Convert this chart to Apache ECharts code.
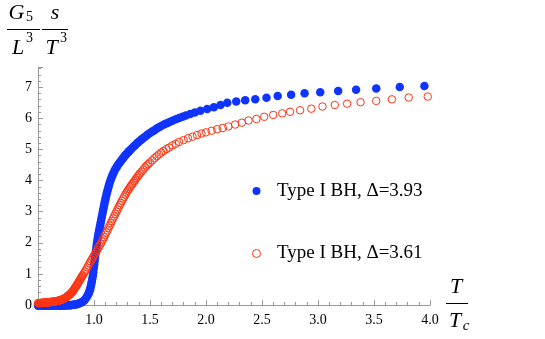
<!DOCTYPE html>
<html>
<head>
<meta charset="utf-8">
<script src="https://cdn.jsdelivr.net/npm/echarts@6/dist/echarts.min.js"></script>
<style>
  html, body { margin: 0; padding: 0; background: #fff; }
  #main { width: 545px; height: 339px; }
</style>
</head>
<body>
<div id="main"></div>
<script>
// legend names
const seriesNames = ['Type I BH, \u0394=3.93', 'Type I BH, \u0394=3.61'];

// [T/Tc, G5 s / (L^3 T^3)]
const blueData = [
  [0.50,-0.02],[0.51,-0.02],[0.52,-0.02],[0.53,-0.02],[0.54,-0.02],[0.55,-0.02],[0.56,-0.02],[0.57,-0.02],
  [0.58,-0.02],[0.59,-0.02],[0.60,-0.02],[0.61,-0.02],[0.62,-0.02],[0.63,-0.02],[0.64,-0.02],[0.65,-0.02],
  [0.66,-0.02],[0.67,-0.02],[0.68,-0.02],[0.69,-0.02],[0.70,-0.02],[0.71,-0.02],[0.72,-0.02],[0.73,-0.02],
  [0.74,-0.01],[0.75,-0.01],[0.76,-0.01],[0.77,-0.01],[0.78,-0.01],[0.79,-0.01],[0.80,0.00],[0.81,0.005],
  [0.82,0.01],[0.83,0.015],[0.84,0.02],[0.85,0.03],[0.86,0.04],[0.87,0.055],[0.88,0.07],[0.89,0.09],
  [0.90,0.11],[0.91,0.14],[0.92,0.18],[0.93,0.23],[0.94,0.28],[0.95,0.35],[0.955,0.40],[0.96,0.45],
  [0.965,0.50],[0.97,0.58],[0.975,0.66],[0.98,0.75],[0.985,0.85],[0.99,0.95],[0.994,1.05],[0.998,1.18],
  [1.002,1.30],[1.006,1.42],[1.010,1.54],[1.014,1.65],[1.018,1.76],[1.022,1.87],[1.026,1.98],[1.030,2.09],
  [1.035,2.19],[1.040,2.29],[1.045,2.38],[1.050,2.47],[1.055,2.56],[1.060,2.65],[1.065,2.75],[1.070,2.84],
  [1.075,2.93],[1.080,3.02],[1.085,3.11],[1.090,3.20],[1.095,3.29],[1.100,3.37],[1.105,3.45],[1.110,3.53],
  [1.116,3.62],[1.122,3.70],[1.128,3.78],[1.134,3.86],[1.140,3.93],[1.148,4.01],[1.156,4.09],[1.164,4.16],
  [1.172,4.23],[1.180,4.29],[1.19,4.36],[1.20,4.42],[1.21,4.48],[1.22,4.53],[1.23,4.58],[1.24,4.63],
  [1.25,4.68],[1.26,4.72],[1.27,4.77],[1.28,4.81],[1.29,4.85],[1.30,4.89],[1.31,4.93],[1.32,4.97],
  [1.335,5.02],[1.35,5.08],[1.365,5.13],[1.38,5.18],[1.395,5.23],[1.41,5.28],[1.425,5.32],[1.44,5.37],
  [1.46,5.42],[1.48,5.48],[1.50,5.53],[1.52,5.58],[1.54,5.62],[1.56,5.67],[1.58,5.71],[1.60,5.75],
  [1.625,5.80],[1.65,5.84],[1.675,5.88],[1.70,5.92],[1.73,5.97],[1.76,6.01],[1.79,6.05],[1.82,6.09],
  [1.86,6.14],[1.90,6.19],[1.95,6.24],[2.01,6.30],[2.07,6.36],[2.13,6.43],[2.19,6.50],[2.27,6.54],
  [2.35,6.58],[2.44,6.61],[2.54,6.66],[2.64,6.72],[2.76,6.76],[2.88,6.81],[3.02,6.84],[3.18,6.88],
  [3.34,6.92],[3.52,6.96],[3.73,7.01],[3.95,7.04]
];

const redData = [
  [0.50,0.06],[0.505,0.06],[0.51,0.06],[0.515,0.06],[0.52,0.06],[0.525,0.065],[0.53,0.07],[0.535,0.07],
  [0.54,0.07],[0.545,0.07],[0.55,0.07],[0.555,0.075],[0.56,0.075],[0.565,0.08],[0.57,0.08],[0.575,0.08],
  [0.58,0.08],[0.585,0.085],[0.59,0.085],[0.595,0.09],[0.60,0.09],[0.605,0.09],[0.61,0.095],[0.615,0.10],
  [0.62,0.10],[0.625,0.10],[0.63,0.105],[0.635,0.11],[0.64,0.11],[0.645,0.11],[0.65,0.115],[0.655,0.12],
  [0.66,0.12],[0.665,0.125],[0.67,0.13],[0.675,0.13],[0.68,0.135],[0.685,0.14],[0.69,0.145],[0.695,0.15],
  [0.70,0.155],[0.705,0.16],[0.71,0.17],[0.715,0.175],[0.72,0.18],[0.725,0.19],[0.73,0.20],[0.735,0.21],
  [0.74,0.22],[0.745,0.23],[0.75,0.24],[0.755,0.255],[0.76,0.27],[0.765,0.285],[0.77,0.30],[0.775,0.315],
  [0.78,0.33],[0.785,0.345],[0.79,0.36],[0.795,0.38],[0.80,0.40],[0.805,0.42],[0.81,0.44],[0.815,0.46],
  [0.82,0.49],[0.825,0.52],[0.83,0.55],[0.835,0.58],[0.84,0.60],[0.845,0.63],[0.85,0.66],[0.855,0.69],
  [0.86,0.72],[0.865,0.75],[0.87,0.78],[0.875,0.81],[0.88,0.84],[0.885,0.87],[0.89,0.90],[0.895,0.93],
  [0.90,0.96],[0.91,1.02],[0.92,1.08],[0.93,1.14],[0.94,1.21],[0.95,1.27],[0.96,1.34],[0.97,1.40],
  [0.98,1.46],[0.99,1.53],[1.00,1.59],[1.01,1.65],[1.02,1.72],[1.03,1.78],[1.04,1.85],[1.05,1.91],
  [1.06,1.97],[1.07,2.04],[1.08,2.11],[1.09,2.18],[1.10,2.26],[1.11,2.33],[1.12,2.40],[1.13,2.48],
  [1.14,2.55],[1.15,2.63],[1.16,2.70],[1.17,2.78],[1.18,2.85],[1.19,2.93],[1.20,3.00],[1.21,3.07],
  [1.22,3.14],[1.23,3.21],[1.24,3.28],[1.25,3.35],[1.26,3.42],[1.27,3.48],[1.28,3.55],[1.29,3.61],
  [1.30,3.67],[1.31,3.72],[1.32,3.78],[1.33,3.83],[1.34,3.88],[1.35,3.93],[1.36,3.98],[1.37,4.03],
  [1.38,4.08],[1.39,4.13],[1.40,4.18],[1.41,4.23],[1.425,4.29],[1.44,4.35],[1.455,4.42],[1.47,4.48],
  [1.485,4.53],[1.50,4.58],[1.52,4.65],[1.54,4.72],[1.56,4.78],[1.58,4.84],[1.60,4.90],[1.62,4.95],
  [1.645,5.01],[1.67,5.06],[1.70,5.13],[1.73,5.18],[1.76,5.24],[1.80,5.30],[1.84,5.36],[1.88,5.41],
  [1.92,5.46],[1.96,5.51],[2.00,5.55],[2.05,5.60],[2.10,5.65],[2.15,5.69],[2.20,5.74],[2.26,5.80],
  [2.32,5.86],[2.38,5.93],[2.45,5.98],[2.52,6.05],[2.60,6.11],[2.68,6.16],[2.75,6.21],[2.84,6.26],
  [2.94,6.31],[3.04,6.38],[3.15,6.43],[3.26,6.47],[3.38,6.52],[3.52,6.56],[3.66,6.61],[3.81,6.67],
  [3.98,6.70]
];

const serif = '"Liberation Serif", "Times New Roman", serif';
const axisGray = '#999';
const blue = '#1034ff';
const red = '#ff3412';

const chart = echarts.init(document.getElementById('main'));

const option = {
  animation: false,
  backgroundColor: '#fff',
  grid: { left: 38, top: 67, right: 115, bottom: 34 },
  xAxis: {
    type: 'value',
    min: 0.5,
    max: 4,
    interval: 0.5,
    axisLine: { onZero: false, lineStyle: { color: axisGray, width: 1 } },
    axisTick: { inside: true, length: 5, lineStyle: { color: axisGray } },
    minorTick: { show: true, splitNumber: 5, length: 3, lineStyle: { color: axisGray } },
    splitLine: { show: false },
    axisLabel: {
      margin: 8,
      color: '#000',
      fontFamily: serif,
      fontSize: 14,
      formatter: v => (v === 0.5 ? '' : v.toFixed(1))
    }
  },
  yAxis: {
    type: 'value',
    min: 0,
    max: 7.65,
    interval: 1,
    axisLine: { show: true, lineStyle: { color: axisGray, width: 1 } },
    axisTick: { inside: true, length: 5, lineStyle: { color: axisGray } },
    minorTick: { show: true, splitNumber: 5, length: 3, lineStyle: { color: axisGray } },
    splitLine: { show: false },
    axisLabel: {
      margin: 6,
      color: '#000',
      fontFamily: serif,
      fontSize: 14,
      formatter: v => (Number.isInteger(v) ? String(v) : '')
    }
  },
  legend: {
    orient: 'vertical',
    left: 247,
    top: 176,
    itemWidth: 31,
    itemHeight: 8,
    itemGap: 42.5,
    textStyle: { fontFamily: serif, fontSize: 19, color: '#000', lineHeight: 20 },
    data: [
      { name: seriesNames[0], icon: 'circle', itemStyle: { color: blue, borderWidth: 0 } },
      { name: seriesNames[1], icon: 'circle', itemStyle: { color: 'rgba(0,0,0,0)', borderColor: red, borderWidth: 1 } }
    ]
  },
  series: [
    {
      name: seriesNames[0],
      type: 'scatter',
      clip: false,
      symbol: 'circle',
      symbolSize: 8.5,
      itemStyle: { color: blue, opacity: 1 },
      data: blueData
    },
    {
      name: seriesNames[1],
      type: 'scatter',
      clip: false,
      symbol: 'circle',
      symbolSize: 7.5,
      itemStyle: { color: 'rgba(0,0,0,0)', borderColor: red, borderWidth: 1, opacity: 1 },
      data: redData
    }
  ],
  graphic: [
    // y label: G5/L^3  s/T^3
    { type: 'text', x: 16.5, y: 13, style: { text: 'G', font: 'italic 22px ' + serif, fill: '#000', align: 'center', verticalAlign: 'middle' } },
    { type: 'text', x: 29.5, y: 17.5, style: { text: '5', font: '14px ' + serif, fill: '#000', align: 'center', verticalAlign: 'middle' } },
    { type: 'line', shape: { x1: 7, y1: 29.5, x2: 40, y2: 29.5 }, style: { stroke: '#000', lineWidth: 1 } },
    { type: 'text', x: 18, y: 48, style: { text: 'L', font: 'italic 22px ' + serif, fill: '#000', align: 'center', verticalAlign: 'middle' } },
    { type: 'text', x: 29.5, y: 38, style: { text: '3', font: '14px ' + serif, fill: '#000', align: 'center', verticalAlign: 'middle' } },
    { type: 'text', x: 55, y: 13, style: { text: 's', font: 'italic 22px ' + serif, fill: '#000', align: 'center', verticalAlign: 'middle' } },
    { type: 'line', shape: { x1: 42, y1: 29.5, x2: 68, y2: 29.5 }, style: { stroke: '#000', lineWidth: 1 } },
    { type: 'text', x: 51.5, y: 48, style: { text: 'T', font: 'italic 22px ' + serif, fill: '#000', align: 'center', verticalAlign: 'middle' } },
    { type: 'text', x: 63.5, y: 38, style: { text: '3', font: '14px ' + serif, fill: '#000', align: 'center', verticalAlign: 'middle' } },
    // x label: T/Tc
    { type: 'text', x: 456, y: 287.5, style: { text: 'T', font: 'italic 22px ' + serif, fill: '#000', align: 'center', verticalAlign: 'middle' } },
    { type: 'line', shape: { x1: 446, y1: 303.5, x2: 468, y2: 303.5 }, style: { stroke: '#000', lineWidth: 1 } },
    { type: 'text', x: 455, y: 321, style: { text: 'T', font: 'italic 22px ' + serif, fill: '#000', align: 'center', verticalAlign: 'middle' } },
    { type: 'text', x: 466, y: 326, style: { text: 'c', font: 'italic 15px ' + serif, fill: '#000', align: 'center', verticalAlign: 'middle' } }
  ]
};

option && chart.setOption(option);
</script>
</body>
</html>
